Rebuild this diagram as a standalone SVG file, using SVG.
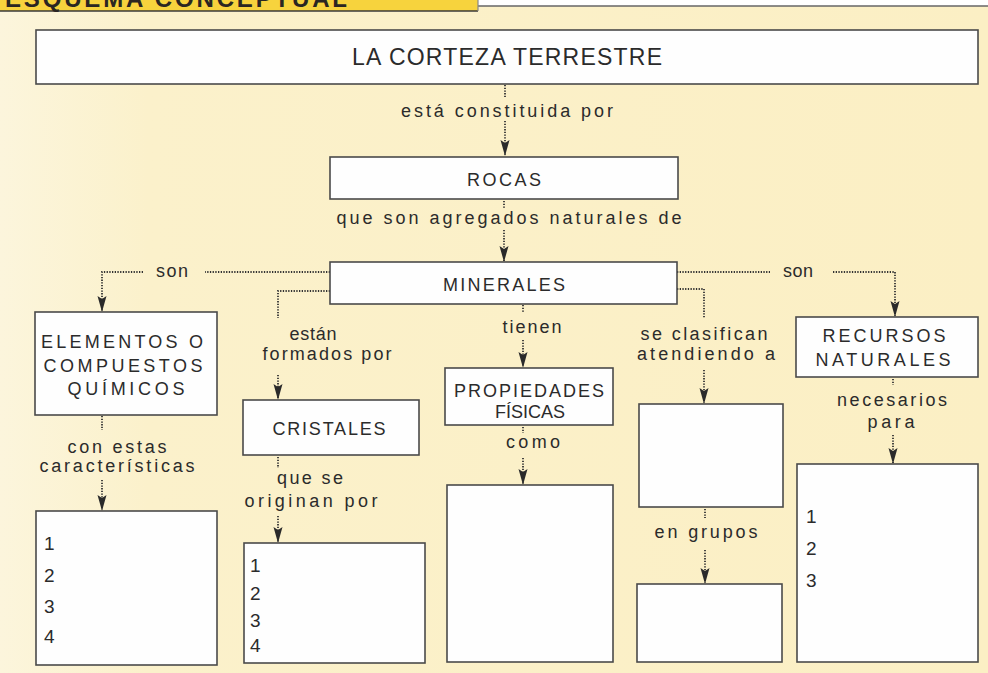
<svg xmlns="http://www.w3.org/2000/svg" width="988" height="673" viewBox="0 0 988 673">
<style>
  .box { fill: #fefefe; stroke: #4a4a4a; stroke-width: 1.6; }
  .cap { font-family: "Liberation Sans", Arial, sans-serif; font-size: 18px; fill: #2b2b2b; text-anchor: middle; }
  .big { font-family: "Liberation Sans", Arial, sans-serif; font-size: 23px; fill: #2b2b2b; text-anchor: middle; }
  .lbl { font-family: "Liberation Sans", Arial, sans-serif; font-size: 18px; fill: #2b2b2b; text-anchor: middle; }
  .num { font-family: "Liberation Sans", Arial, sans-serif; font-size: 19px; fill: #2b2b2b; }
  .dot { fill: none; stroke: #333; stroke-width: 1.8; stroke-dasharray: 1.3 1.4; }
  .arr { marker-end: url(#ah); }
  .hdr { font-family: "Liberation Sans", Arial, sans-serif; font-size: 24px; font-weight: bold; fill: #2a2622; }
</style>
<defs>
  <marker id="ah" markerUnits="userSpaceOnUse" markerWidth="16" markerHeight="10" viewBox="0 0 16 10" refX="15" refY="5" orient="auto">
    <path d="M0,0.5 L16,5 L0,9.5 L3,5 z" fill="#2a2a2a"/>
  </marker>
  <linearGradient id="bgg" x1="0" y1="0" x2="1" y2="0">
    <stop offset="0" stop-color="#fcf5dc"/>
    <stop offset="0.15" stop-color="#fbf1cb"/>
    <stop offset="1" stop-color="#fbefc4"/>
  </linearGradient>
</defs>

<rect x="0" y="0" width="988" height="673" fill="url(#bgg)"/>

<g id="header">
  <rect x="478" y="0" width="510" height="6" fill="#ffffff"/>
  <line x1="478" y1="6" x2="988" y2="6" stroke="#666" stroke-width="1.5"/>
  <rect x="0" y="0" width="478" height="11" fill="#f7d33d"/>
  <line x1="0" y1="11" x2="478" y2="11" stroke="#3a3a3a" stroke-width="1.5"/>
  <line x1="478" y1="0" x2="478" y2="11" stroke="#888" stroke-width="1.2"/>
  <text class="hdr" x="5" y="7" textLength="342" lengthAdjust="spacing">ESQUEMA CONCEPTUAL</text>
</g>

<g id="connectors">
  <path class="dot" d="M505,85 V98"/>
  <path class="dot arr" d="M505,121 V155"/>
  <path class="dot" d="M504,201 V208"/>
  <path class="dot arr" d="M504,230 V261"/>
  <path class="dot" d="M330,272 H205"/>
  <path class="dot arr" d="M143,272 H102 V311"/>
  <path class="dot" d="M330,291 H278 V318"/>
  <path class="dot arr" d="M278,375 V399"/>
  <path class="dot" d="M523,305 V312"/>
  <path class="dot arr" d="M523,340 V367"/>
  <path class="dot" d="M677,289 H704 V318"/>
  <path class="dot arr" d="M704,370 V403"/>
  <path class="dot" d="M677,272 H770"/>
  <path class="dot arr" d="M833,272 H895 V316"/>
  <path class="dot" d="M102,416 V430"/>
  <path class="dot arr" d="M102,480 V510"/>
  <path class="dot" d="M278,457 V468"/>
  <path class="dot arr" d="M278,516 V542"/>
  <path class="dot" d="M523,427 V433"/>
  <path class="dot arr" d="M523,458 V484"/>
  <path class="dot" d="M705,509 V518"/>
  <path class="dot arr" d="M705,550 V583"/>
  <path class="dot" d="M893,379 V385"/>
  <path class="dot arr" d="M893,435 V463"/>
  <text class="lbl" x="507" y="117" textLength="212" lengthAdjust="spacing">está constituida por</text>
  <text class="lbl" x="509" y="224" textLength="345" lengthAdjust="spacing">que son agregados naturales de</text>
  <text class="lbl" x="172" y="277" textLength="32" lengthAdjust="spacing">son</text>
  <text class="lbl" x="798" y="277" textLength="30" lengthAdjust="spacing">son</text>
  <text class="lbl" x="313" y="340" textLength="47" lengthAdjust="spacing">están</text>
  <text class="lbl" x="327" y="360" textLength="129" lengthAdjust="spacing">formados por</text>
  <text class="lbl" x="532" y="333" textLength="59" lengthAdjust="spacing">tienen</text>
  <text class="lbl" x="704" y="340" textLength="127" lengthAdjust="spacing">se clasifican</text>
  <text class="lbl" x="706" y="360" textLength="138" lengthAdjust="spacing">atendiendo a</text>
  <text class="lbl" x="117" y="453" textLength="99" lengthAdjust="spacing">con estas</text>
  <text class="lbl" x="117" y="472" textLength="155" lengthAdjust="spacing">características</text>
  <text class="lbl" x="310" y="484" textLength="66" lengthAdjust="spacing">que se</text>
  <text class="lbl" x="311" y="507" textLength="133" lengthAdjust="spacing">originan por</text>
  <text class="lbl" x="533" y="448" textLength="54" lengthAdjust="spacing">como</text>
  <text class="lbl" x="706" y="538" textLength="103" lengthAdjust="spacing">en grupos</text>
  <text class="lbl" x="892" y="406" textLength="110" lengthAdjust="spacing">necesarios</text>
  <text class="lbl" x="891" y="428" textLength="47" lengthAdjust="spacing">para</text>
</g>

<g id="corteza">
  <rect class="box" x="36" y="30" width="942" height="54"/>
  <text class="big" x="507" y="65" textLength="310" lengthAdjust="spacing">LA CORTEZA TERRESTRE</text>
</g>

<g id="rocas">
  <rect class="box" x="330" y="157" width="348" height="42"/>
  <text class="cap" x="504" y="186" textLength="74" lengthAdjust="spacing">ROCAS</text>
</g>

<g id="minerales">
  <rect class="box" x="330" y="262" width="347" height="42"/>
  <text class="cap" x="504" y="291" textLength="122" lengthAdjust="spacing">MINERALES</text>
</g>

<g id="elementos">
  <rect class="box" x="35" y="312" width="182" height="103"/>
  <text class="cap" x="122" y="348" textLength="162" lengthAdjust="spacing">ELEMENTOS O</text>
  <text class="cap" x="123" y="372" textLength="159" lengthAdjust="spacing">COMPUESTOS</text>
  <text class="cap" x="126" y="395" textLength="117" lengthAdjust="spacing">QUÍMICOS</text>
</g>

<g id="cristales">
  <rect class="box" x="243" y="400" width="176" height="55"/>
  <text class="cap" x="329" y="435" textLength="113" lengthAdjust="spacing">CRISTALES</text>
</g>

<g id="propiedades">
  <rect class="box" x="445" y="368" width="168" height="57"/>
  <text class="cap" x="529" y="397" textLength="150" lengthAdjust="spacing">PROPIEDADES</text>
  <text class="cap" x="530" y="418" textLength="70" lengthAdjust="spacing">FÍSICAS</text>
</g>

<g id="clasificacion">
  <rect class="box" x="639" y="404" width="144" height="103"/>
</g>

<g id="recursos">
  <rect class="box" x="796" y="317" width="182" height="60"/>
  <text class="cap" x="884" y="342" textLength="123" lengthAdjust="spacing">RECURSOS</text>
  <text class="cap" x="883" y="366" textLength="135" lengthAdjust="spacing">NATURALES</text>
</g>

<g id="caracteristicas">
  <rect class="box" x="36" y="511" width="181" height="154"/>
  <text class="num" x="44" y="550">1</text>
  <text class="num" x="44" y="582">2</text>
  <text class="num" x="44" y="613">3</text>
  <text class="num" x="44" y="643">4</text>
</g>

<g id="origen">
  <rect class="box" x="244" y="543" width="181" height="120"/>
  <text class="num" x="250" y="572">1</text>
  <text class="num" x="250" y="600">2</text>
  <text class="num" x="250" y="627">3</text>
  <text class="num" x="250" y="652">4</text>
</g>

<g id="propiedades-lista">
  <rect class="box" x="447" y="485" width="166" height="177"/>
</g>

<g id="grupos">
  <rect class="box" x="637" y="584" width="145" height="78"/>
</g>

<g id="usos">
  <rect class="box" x="797" y="464" width="181" height="198"/>
  <text class="num" x="806" y="523">1</text>
  <text class="num" x="806" y="555">2</text>
  <text class="num" x="806" y="587">3</text>
</g>
</svg>
